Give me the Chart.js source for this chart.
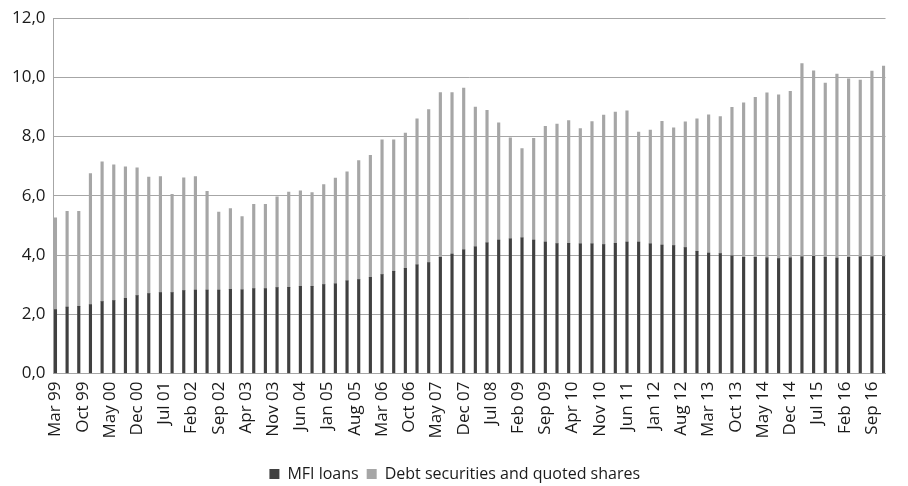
<!DOCTYPE html>
<html>
<head>
<meta charset="utf-8">
<script src="https://cdn.jsdelivr.net/npm/chart.js@4"></script>
<style>
  html, body { margin: 0; padding: 0; background: #ffffff; overflow: hidden; }
  #wrap { position: relative; width: 912px; height: 492px; }
</style>
</head>
<body>
<div id="wrap"><canvas id="c"></canvas></div>
<script>
// Quarterly categories (end of quarter)
const quarters = [
  "Mar 99","Jun 99","Sep 99","Dec 99","Mar 00","Jun 00","Sep 00","Dec 00",
  "Mar 01","Jun 01","Sep 01","Dec 01","Mar 02","Jun 02","Sep 02","Dec 02",
  "Mar 03","Jun 03","Sep 03","Dec 03","Mar 04","Jun 04","Sep 04","Dec 04",
  "Mar 05","Jun 05","Sep 05","Dec 05","Mar 06","Jun 06","Sep 06","Dec 06",
  "Mar 07","Jun 07","Sep 07","Dec 07","Mar 08","Jun 08","Sep 08","Dec 08",
  "Mar 09","Jun 09","Sep 09","Dec 09","Mar 10","Jun 10","Sep 10","Dec 10",
  "Mar 11","Jun 11","Sep 11","Dec 11","Mar 12","Jun 12","Sep 12","Dec 12",
  "Mar 13","Jun 13","Sep 13","Dec 13","Mar 14","Jun 14","Sep 14","Dec 14",
  "Mar 15","Jun 15","Sep 15","Dec 15","Mar 16","Jun 16","Sep 16","Dec 16"
];

// MFI loans (dark bars)
const mfiLoans = [
  2.16, 2.24, 2.27, 2.33, 2.43, 2.46, 2.54, 2.63,
  2.70, 2.73, 2.73, 2.80, 2.82, 2.82, 2.82, 2.84,
  2.83, 2.87, 2.87, 2.90, 2.91, 2.94, 2.94, 3.00,
  3.03, 3.13, 3.17, 3.25, 3.34, 3.45, 3.55, 3.67,
  3.75, 3.92, 4.03, 4.18, 4.28, 4.41, 4.51, 4.55,
  4.58, 4.51, 4.44, 4.39, 4.40, 4.38, 4.38, 4.35,
  4.40, 4.44, 4.44, 4.38, 4.34, 4.32, 4.25, 4.13,
  4.07, 4.05, 3.97, 3.92, 3.92, 3.91, 3.88, 3.91,
  3.94, 3.96, 3.92, 3.90, 3.92, 3.94, 3.94, 3.95
];

// Debt securities and quoted shares (light bars, stacked on top)
const debtSecurities = [
  3.10, 3.24, 3.21, 4.42, 4.72, 4.59, 4.44, 4.32,
  3.93, 3.92, 3.32, 3.81, 3.83, 3.33, 2.63, 2.73,
  2.47, 2.84, 2.84, 3.07, 3.22, 3.23, 3.17, 3.38,
  3.57, 3.68, 4.02, 4.12, 4.55, 4.44, 4.57, 4.93,
  5.16, 5.57, 5.46, 5.46, 4.72, 4.48, 3.96, 3.41,
  3.02, 3.43, 3.91, 4.03, 4.14, 3.89, 4.13, 4.38,
  4.43, 4.43, 3.71, 3.84, 4.18, 3.98, 4.25, 4.47,
  4.67, 4.63, 5.02, 5.22, 5.41, 5.57, 5.53, 5.62,
  6.53, 6.26, 5.89, 6.21, 6.03, 5.97, 6.27, 6.43
];

// Labels shown on the (monthly) date axis
const tickLabels = [
  "Mar 99","Oct 99","May 00","Dec 00","Jul 01","Feb 02","Sep 02","Apr 03",
  "Nov 03","Jun 04","Jan 05","Aug 05","Mar 06","Oct 06","May 07","Dec 07",
  "Jul 08","Feb 09","Sep 09","Apr 10","Nov 10","Jun 11","Jan 12","Aug 12",
  "Mar 13","Oct 13","May 14","Dec 14","Jul 15","Feb 16","Sep 16"
];

const monthNames = ["Jan","Feb","Mar","Apr","May","Jun","Jul","Aug","Sep","Oct","Nov","Dec"];

// Monthly date axis from first to last quarter (like a date axis with month base unit)
const months = [];
(function () {
  const [m0, y0] = quarters[0].split(" ");
  const [m1, y1] = quarters[quarters.length - 1].split(" ");
  let m = monthNames.indexOf(m0), y = 1900 + (+y0 < 50 ? 100 : 0) + (+y0);
  const endM = monthNames.indexOf(m1), endY = 1900 + (+y1 < 50 ? 100 : 0) + (+y1);
  while (y < endY || (y === endY && m <= endM)) {
    months.push(monthNames[m] + " " + String(y % 100).padStart(2, "0"));
    m++; if (m > 11) { m = 0; y++; }
  }
})();

function onMonths(values) {
  return months.map(lbl => {
    const i = quarters.indexOf(lbl);
    return i >= 0 ? values[i] : null;
  });
}

const FONT = "'Open Sans', 'DejaVu Sans', sans-serif";
const GRID = "#a6a6a6";

new Chart(document.getElementById("c"), {
  type: "bar",
  data: {
    labels: months,
    datasets: [
      { label: "MFI loans", data: onMonths(mfiLoans), backgroundColor: "#404040",
        borderWidth: 0, barThickness: 2.5, stack: "s" },
      { label: "Debt securities and quoted shares", data: onMonths(debtSecurities),
        backgroundColor: "#a6a6a6", borderWidth: 0, barThickness: 2.5, stack: "s" }
    ]
  },
  options: {
    responsive: true,
    maintainAspectRatio: false,
    animation: false,
    layout: { padding: { top: 15.5, right: 2.5, bottom: 0, left: 0 } },
    plugins: {
      legend: {
        position: "bottom",
        labels: {
          font: { family: FONT, size: 16 },
          color: "#1a1a1a",
          boxWidth: 10,
          boxHeight: 10,
          padding: 8
        }
      },
      tooltip: { enabled: false }
    },
    scales: {
      x: {
        stacked: true,
        grid: { display: false, drawTicks: false },
        border: { display: true, color: GRID, width: 1 },
        ticks: {
          autoSkip: false,
          minRotation: 90,
          maxRotation: 90,
          padding: 8,
          color: "#1a1a1a",
          font: { family: FONT, size: 17 },
          callback: function (value, index) {
            const lbl = months[index];
            return tickLabels.includes(lbl) ? lbl : "";
          }
        },
        afterFit: function (scale) { scale.height = 84.5; }
      },
      y: {
        stacked: true,
        min: 0,
        max: 12,
        grid: { color: GRID, lineWidth: 1, drawTicks: false },
        border: { display: true, color: GRID, width: 1 },
        ticks: {
          stepSize: 2,
          padding: 8,
          color: "#1a1a1a",
          font: { family: FONT, size: 17 },
          callback: v => v.toFixed(1).replace(".", ",")
        },
        afterFit: function (scale) { scale.width = 53.5; }
      }
    }
  }
});
</script>
</body>
</html>
